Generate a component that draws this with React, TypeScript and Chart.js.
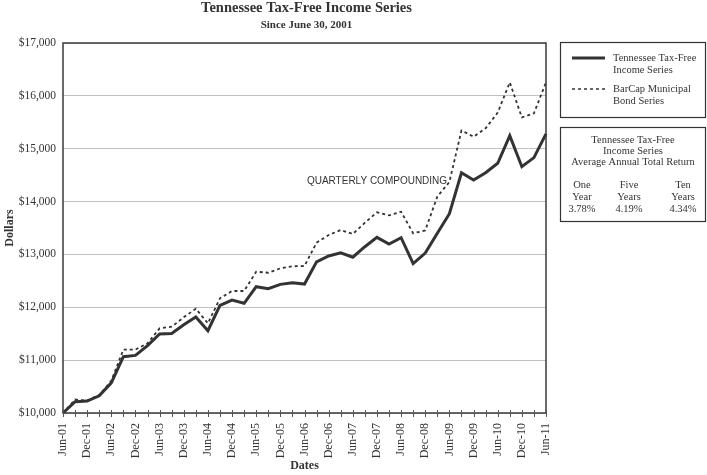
import React, { useEffect, useRef } from "react";
import { Chart, registerables } from "chart.js";

Chart.register(...registerables);

const quarters: string[] = [
  "Jun-01", "Sep-01", "Dec-01", "Mar-02", "Jun-02", "Sep-02", "Dec-02", "Mar-03", "Jun-03", "Sep-03",
  "Dec-03", "Mar-04", "Jun-04", "Sep-04", "Dec-04", "Mar-05", "Jun-05", "Sep-05", "Dec-05", "Mar-06",
  "Jun-06", "Sep-06", "Dec-06", "Mar-07", "Jun-07", "Sep-07", "Dec-07", "Mar-08", "Jun-08", "Sep-08",
  "Dec-08", "Mar-09", "Jun-09", "Sep-09", "Dec-09", "Mar-10", "Jun-10", "Sep-10", "Dec-10", "Mar-11",
  "Jun-11",
];

const tennesseeSeries: number[] = [
  10000, 10215, 10225, 10325, 10570, 11065, 11090, 11275, 11495, 11505,
  11670, 11815, 11557, 12035, 12135, 12075, 12390, 12352, 12434, 12465,
  12440, 12860, 12970, 13032, 12948, 13146, 13323, 13197, 13316, 12825,
  13025, 13400, 13770, 14546, 14408, 14546, 14725, 15245, 14660, 14832,
  15280,
];

const barcapSeries: number[] = [
  10000, 10255, 10235, 10340, 10610, 11200, 11200, 11318, 11602, 11633,
  11810, 11973, 11697, 12169, 12308, 12308, 12673, 12654, 12737, 12775,
  12781, 13222, 13367, 13462, 13386, 13600, 13796, 13739, 13808, 13399,
  13455, 14095, 14370, 15345, 15227, 15386, 15682, 16255, 15593, 15669,
  16255,
];

const seriesNames: string[] = ["Tennessee Tax-Free Income Series", "BarCap Municipal Bond Series"];
const returnPeriods: string[][] = [["One", "Year"], ["Five", "Years"], ["Ten", "Years"]];
const returnValues: string[] = ["3.78%", "4.19%", "4.34%"];

const SERIF = '"Liberation Serif", "Times New Roman", serif';
const SANS = '"Liberation Sans", Arial, sans-serif';
const INK = "#333333";

const overlay = {
  id: "overlay",
  afterDraw(chart: any) {
    const ctx = chart.ctx as CanvasRenderingContext2D;
    const { left, right, top, bottom } = chart.chartArea;
    ctx.save();
    // plot frame
    ctx.strokeStyle = "#3a3a3a";
    ctx.lineWidth = 1.5;
    ctx.strokeRect(left, top, right - left, bottom - top);
    // x tick marks
    const xs = chart.scales.x;
    ctx.lineWidth = 1;
    ctx.strokeStyle = "#555";
    for (let i = 0; i < quarters.length; i++) {
      const px = Math.round(xs.getPixelForValue(i)) + 0.5;
      ctx.beginPath();
      ctx.moveTo(px, bottom - 3);
      ctx.lineTo(px, bottom + 4);
      ctx.stroke();
    }
    ctx.fillStyle = INK;
    ctx.textAlign = "center";
    ctx.textBaseline = "middle";
    const cx = (left + right) / 2 + 2;
    ctx.font = `bold 14.5px ${SERIF}`;
    ctx.fillText("Tennessee Tax-Free Income Series", cx, 8);
    ctx.font = `bold 11px ${SERIF}`;
    ctx.fillText("Since June 30, 2001", cx, 25);
    ctx.font = `bold 12px ${SERIF}`;
    ctx.fillText("Dates", cx - 2, 466);
    ctx.save();
    ctx.translate(10, (top + bottom) / 2);
    ctx.rotate(-Math.PI / 2);
    ctx.fillText("Dollars", 0, 0);
    ctx.restore();
    ctx.font = `10px ${SANS}`;
    ctx.fillText("QUARTERLY COMPOUNDING", 377, 181);

    // legend box
    ctx.strokeStyle = "#333";
    ctx.lineWidth = 1.2;
    ctx.strokeRect(560.5, 42.5, 145, 75);
    ctx.strokeRect(560.5, 127.5, 145, 94);
    ctx.strokeStyle = "#333";
    ctx.lineWidth = 3;
    ctx.setLineDash([]);
    ctx.beginPath();
    ctx.moveTo(572, 58);
    ctx.lineTo(605, 58);
    ctx.stroke();
    ctx.lineWidth = 1.5;
    ctx.setLineDash([3, 3]);
    ctx.beginPath();
    ctx.moveTo(572, 89);
    ctx.lineTo(605, 89);
    ctx.stroke();
    ctx.setLineDash([]);
    ctx.textAlign = "left";
    ctx.font = `10.5px ${SERIF}`;
    ctx.fillText("Tennessee Tax-Free", 613, 58);
    ctx.fillText("Income Series", 613, 70);
    ctx.fillText("BarCap Municipal", 613, 89);
    ctx.fillText("Bond Series", 613, 101);

    ctx.textAlign = "center";
    ctx.fillText("Tennessee Tax-Free", 633, 140);
    ctx.fillText("Income Series", 633, 151);
    ctx.fillText("Average Annual Total Return", 633, 162);
    const colX = [582, 629, 683];
    for (let c = 0; c < 3; c++) {
      ctx.fillText(returnPeriods[c][0], colX[c], 185);
      ctx.fillText(returnPeriods[c][1], colX[c], 197);
      ctx.fillText(returnValues[c], colX[c], 209);
    }
    ctx.restore();
  },
};

export default function App() {
  const ref = useRef<HTMLCanvasElement>(null);
  useEffect(() => {
    if (!ref.current) return;
    const chart = new Chart(ref.current, {
      type: "line",
      data: {
        labels: quarters,
        datasets: [
          {
            label: seriesNames[0],
            data: tennesseeSeries,
            borderColor: "#333333",
            borderWidth: 3,
            pointRadius: 0,
            tension: 0,
            fill: false,
          },
          {
            label: seriesNames[1],
            data: barcapSeries,
            borderColor: "#333333",
            borderWidth: 1.8,
            borderDash: [3, 3],
            pointRadius: 0,
            tension: 0,
            fill: false,
          },
        ],
      },
      options: {
        responsive: false,
        animation: false,
        devicePixelRatio: 1,
        layout: { padding: { left: 0, top: 43, right: 161, bottom: 0 } },
        plugins: { legend: { display: false }, title: { display: false }, tooltip: { enabled: false } },
        scales: {
          x: {
            type: "category",
            offset: false,
            grid: { display: false, drawTicks: false },
            border: { display: false },
            ticks: {
              autoSkip: false,
              maxRotation: 90,
              minRotation: 90,
              padding: 10,
              color: INK,
              font: { family: SERIF, size: 12 },
              callback: (v: any, i: number) => (i % 2 === 0 ? quarters[i] : ""),
            },
            afterFit: (s: any) => {
              s.height = 62;
            },
          },
          y: {
            min: 10000,
            max: 17000,
            grid: { color: "#c0c0c0", lineWidth: 1, drawTicks: false },
            border: { display: false },
            ticks: {
              stepSize: 1000,
              padding: 7,
              color: INK,
              font: { family: SERIF, size: 11.5 },
              callback: (v: any) => "$" + Number(v).toLocaleString("en-US"),
            },
            afterFit: (s: any) => {
              s.width = 63;
            },
          },
        },
      },
      plugins: [overlay],
    });
    return () => chart.destroy();
  }, []);
  return (
    <div style={{ position: "fixed", left: 0, top: 0, width: 707, height: 475, background: "#fff" }}>
      <canvas ref={ref} width={707} height={475} style={{ width: 707, height: 475, display: "block" }} />
    </div>
  );
}
